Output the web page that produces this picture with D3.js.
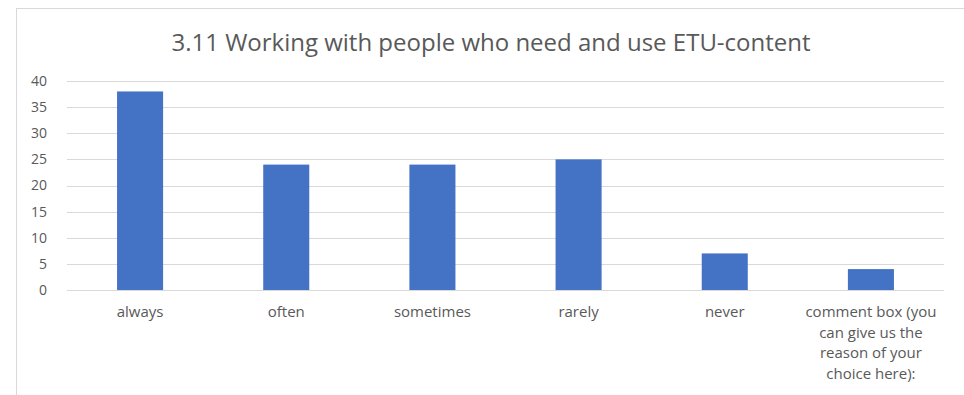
<!DOCTYPE html>
<html>
<head>
<meta charset="utf-8">
<script src="https://cdn.jsdelivr.net/npm/d3@7"></script>
<style>
  html, body { margin: 0; padding: 0; background: #fff; }
  svg { display: block; }
  text { font-family: "Open Sans", "Noto Sans", sans-serif; fill: #595959; }
</style>
</head>
<body>
<svg id="chart" width="964" height="395"></svg>
<script>
// Survey answers for question 3.11
const categories = [
  "always", "often", "sometimes", "rarely", "never",
  "comment box (you can give us the reason of your choice here):"
];
const counts = [38, 24, 24, 25, 7, 4];
const yTicks = [0, 5, 10, 15, 20, 25, 30, 35, 40];
const title = "3.11 Working with people who need and use ETU-content";

const svg = d3.select("#chart");
const W = 964, H = 395;
const plot = { left: 67, right: 944, top: 81, bottom: 290 };

// chart frame (open on the right and bottom edges)
svg.append("rect")
  .attr("x", 16.5).attr("y", 8.5)
  .attr("width", W + 10).attr("height", H + 10)
  .attr("fill", "#fff").attr("stroke", "#d9d9d9").attr("stroke-width", 1);

const x = d3.scaleBand()
  .domain(categories)
  .range([plot.left, plot.right])
  .paddingInner(0.685).paddingOuter(0.3425);

const y = d3.scaleLinear().domain([0, 40]).range([plot.bottom, plot.top]);

// horizontal gridlines
svg.append("g")
  .selectAll("line")
  .data(yTicks)
  .join("line")
  .attr("x1", plot.left).attr("x2", plot.right)
  .attr("y1", d => Math.round(y(d)) + 0.5).attr("y2", d => Math.round(y(d)) + 0.5)
  .attr("stroke", "#d9d9d9").attr("stroke-width", 1);

// y-axis labels
const yAxis = d3.axisLeft(y).tickValues(yTicks).tickSize(0).tickPadding(0);
const gy = svg.append("g").attr("transform", `translate(47,0)`).call(yAxis);
gy.select(".domain").remove();
gy.selectAll("text")
  .attr("font-size", 14)
  .attr("font-family", null)
  .attr("fill", "#595959");

// bars
svg.append("g")
  .selectAll("rect")
  .data(counts)
  .join("rect")
  .attr("x", (d, i) => x(categories[i]))
  .attr("width", x.bandwidth())
  .attr("y", d => y(d))
  .attr("height", d => y(0) - y(d))
  .attr("fill", "#4472c4");

// category labels, wrapped to the band width
function wrapWords(text, maxWidth, measure) {
  const words = text.split(" ");
  const lines = [];
  let line = "";
  words.forEach(w => {
    const t = line ? line + " " + w : w;
    if (measure(t) > maxWidth && line) { lines.push(line); line = w; }
    else line = t;
  });
  if (line) lines.push(line);
  return lines;
}
const labelSize = 15;
const measurer = svg.append("text").attr("font-size", labelSize).attr("visibility", "hidden");
const measure = s => { measurer.text(s); return measurer.node().getComputedTextLength(); };

const xLabels = svg.append("g");
categories.forEach(c => {
  const cx = x(c) + x.bandwidth() / 2;
  const lines = wrapWords(c, 142, measure);
  const t = xLabels.append("text")
    .attr("text-anchor", "middle")
    .attr("font-size", labelSize)
    .attr("x", cx).attr("y", 317);
  lines.forEach((l, i) => {
    t.append("tspan").attr("x", cx).attr("dy", i === 0 ? 0 : 20.7).text(l);
  });
});
measurer.remove();

// title
svg.append("text")
  .attr("x", 491).attr("y", 51)
  .attr("text-anchor", "middle")
  .attr("font-size", 24)
  .text(title);
</script>
</body>
</html>
